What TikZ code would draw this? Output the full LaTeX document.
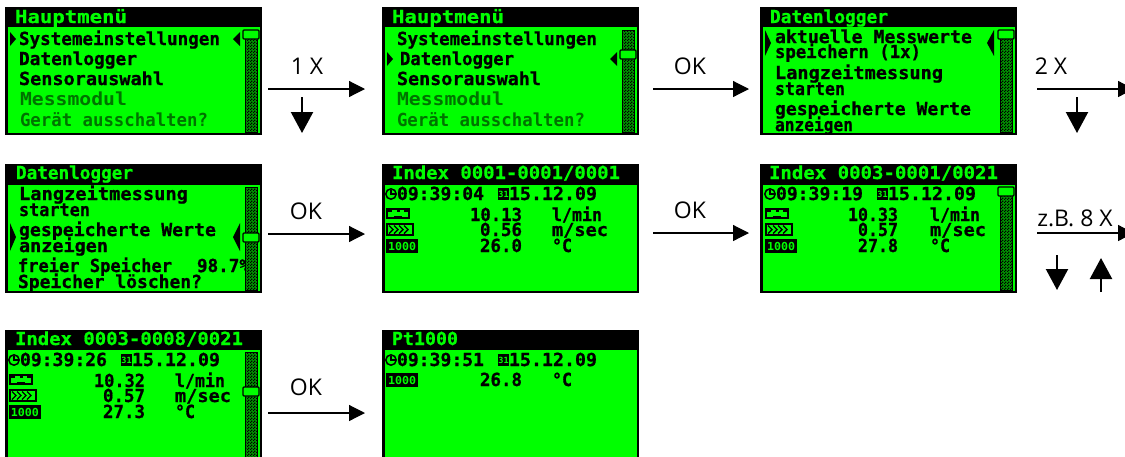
\documentclass[tikz,border=0pt]{standalone}
\usepackage{fontspec}
\usepackage{graphicx}
\usetikzlibrary{arrows.meta,patterns}
\setmainfont{Open Sans}
\newfontfamily\lcdfont{DejaVu Sans Mono Bold}[FakeBold=0.8]
\newfontfamily\lcdicon{DejaVu Sans Mono Bold}
\definecolor{lcdgreen}{RGB}{0,255,0}
\definecolor{lcddim}{RGB}{0,115,0}
\definecolor{lcdtrack}{RGB}{0,150,0}
\pgfdeclarepatternformonly{lcdcheck}{\pgfqpoint{0pt}{0pt}}{\pgfqpoint{2.6pt}{2.6pt}}{\pgfqpoint{2.6pt}{2.6pt}}{%
  \pgfpathrectangle{\pgfqpoint{0pt}{0pt}}{\pgfqpoint{1.3pt}{1.3pt}}%
  \pgfpathrectangle{\pgfqpoint{1.3pt}{1.3pt}}{\pgfqpoint{1.3pt}{1.3pt}}%
  \pgfusepath{fill}}
\newcounter{lcdn}
\tikzset{
  lcdtext/.style={anchor=base west,inner sep=0pt,outer sep=0pt,font=\lcdfont\fontsize{18}{18}\selectfont,text=black},
  lcdhead/.style={lcdtext,text=lcdgreen},
  lcddimtext/.style={anchor=base west,inner sep=0pt,outer sep=0pt,font=\lcdicon\fontsize{18}{18}\selectfont,text=lcddim},
  keylabel/.style={anchor=base,inner sep=0pt,font=\fontsize{23}{23}\selectfont,text=black},
  flowarrow/.style={draw=black,line width=1.2pt,-{Triangle[length=16pt,width=16pt]}},
  keyarrow/.style={draw=black,line width=2.2pt,-{Triangle[length=21pt,width=22pt]}},
  marker/.style={fill=black},
  thumb/.style={draw=black,line width=1.3pt,fill=lcdgreen,rounded corners=1pt},
}
% background of a screen: name, x, y, w, h, top of green area
\newcommand\lcdbg[6]{%
  \node[fill=black,draw=none,anchor=north west,inner sep=0pt,minimum width=#4pt,minimum height=#5pt] (#1) at (#2,#3) {};
  \fill[lcdgreen] (#2+3,#6) rectangle (#2+#4-2,#3+#5-2);}
% frame drawn over the text
\newcommand\lcdframe[5]{%
  \fill[black] (#1,#2) rectangle (#1+3,#2+#4);
  \fill[black] (#1+#3-2,#2) rectangle (#1+#3,#2+#4);
  \fill[black] (#1,#5-2) rectangle (#1+#3,#2+#4);
  \fill[white] (#1,#2+#4) rectangle (#1+#3,#2+#4+6);}
% text of a given width: style, x, baseline, width, text
\newcommand\lcdline[5]{\stepcounter{lcdn}%
  \node[#1] (t\thelcdn) at (#2,#3) {\resizebox{#4pt}{\height}{#5}};}
% scrollbar: x of track left, y top, y bottom, thumb top
\newcommand\track[4]{%
  \fill[lcdtrack] (#1,#2) rectangle (#1+12,#3);
  \fill[pattern=lcdcheck,pattern color=black] (#1,#2) rectangle (#1+12,#3);
  \draw[black,line width=.8pt] (#1,#2) rectangle (#1+12,#3);
  \path[thumb] (#1-2,#4) rectangle (#1+14,#4+9);}
% markers: left x, right x, y centre, half height
\newcommand\lcdmarks[4]{%
  \fill[marker] (#1,#3-#4) -- (#1+6,#3) -- (#1,#3+#4) -- cycle;
  \fill[marker] (#2,#3-#4) -- (#2-7,#3) -- (#2,#3+#4) -- cycle;}
% clock and date line, dx dy relative to the Index screen at (382,164)
\newcommand\clockdate[3]{%
  \begin{scope}[shift={(#1,#2)}]
  \draw[black,line width=1.5pt] (391,194) circle (5.2pt);
  \draw[black,line width=1.3pt] (391,190) -- (391,194) -- (395.5,194);
  \fill[black] (498,188) rectangle (509,200);
  \stepcounter{lcdn}\node[anchor=center,inner sep=0pt,text=lcdgreen,font=\lcdicon\fontsize{8.5}{8.5}\selectfont] (t\thelcdn) at (503.5,194) {31};
  \end{scope}}
\newcommand\flowicon[2]{%
  \begin{scope}[shift={(#1,#2)}]
  \fill[black] (386,208) rectangle (410,219);
  \fill[lcdgreen] (388,212) rectangle (408,217);
  \fill[lcdgreen] (392,210) rectangle (404,212);
  \fill[black] (396.5,210) rectangle (399.5,212);
  \fill[black] (394,216) rectangle (402,217);
  \end{scope}}
\newcommand\velicon[2]{%
  \begin{scope}[shift={(#1,#2)}]
  \fill[black] (386,223) rectangle (414,236);
  \fill[lcdgreen] (388,225) rectangle (412,234);
  \foreach \cx in {389,394,399,404}
    \draw[black,line width=1.4pt] (\cx,225.5) -- (\cx+4,229.5) -- (\cx,233.5);
  \end{scope}}
\newcommand\pticon[2]{%
  \begin{scope}[shift={(#1,#2)}]
  \fill[black] (386,239) rectangle (418,253);
  \stepcounter{lcdn}\node[anchor=center,inner sep=0pt,text=lcdgreen,font=\lcdicon\fontsize{11}{11}\selectfont] (t\thelcdn) at (402,246) {\resizebox{28pt}{\height}{1000}};
  \end{scope}}
% connector with named free ends
\newcommand\conn[6]{%
  \coordinate (#1s) at (#3,#4); \coordinate (#1e) at (#5,#6);
  \draw[#2] (#1s) -- (#1e);}
\begin{document}
\begin{tikzpicture}[x=1pt,y=-1pt]
\useasboundingbox (0,0) rectangle (1125,456);
\clip (0,0) rectangle (1125,456);

% ---- screen 1
\lcdbg{s1}{5}{7}{257}{128}{27}
\lcdline{lcdhead}{15}{23}{112}{Hauptmenü}
\lcdline{lcdtext}{19}{45}{201}{Systemeinstellungen}
\lcdline{lcdtext}{19}{65}{118}{Datenlogger}
\lcdline{lcdtext}{19}{85}{145}{Sensorauswahl}
\lcdline{lcddimtext}{20}{105}{107}{Messmodul}
\lcdline{lcddimtext}{20}{126}{188}{Gerät ausschalten?}
\track{245}{30}{132}{30}
\lcdmarks{10}{240}{39}{7}
\lcdframe{5}{7}{257}{128}{135}

% ---- screen 2
\lcdbg{s2}{382}{7}{257}{128}{27}
\lcdline{lcdhead}{392}{23}{112}{Hauptmenü}
\lcdline{lcdtext}{397}{45}{200}{Systemeinstellungen}
\lcdline{lcdtext}{400}{65}{114}{Datenlogger}
\lcdline{lcdtext}{397}{85}{144}{Sensorauswahl}
\lcdline{lcddimtext}{397}{105}{107}{Messmodul}
\lcdline{lcddimtext}{397}{126}{188}{Gerät ausschalten?}
\track{622}{30}{132}{50}
\lcdmarks{387}{617}{59}{7}
\lcdframe{382}{7}{257}{128}{135}

% ---- screen 3
\lcdbg{s3}{760}{7}{257}{128}{27}
\lcdline{lcdhead}{770}{23}{118}{Datenlogger}
\lcdline{lcdtext}{775}{43}{197}{aktuelle Messwerte}
\lcdline{lcdtext}{775}{58}{146}{speichern (1x)}
\lcdline{lcdtext}{775}{79}{168}{Langzeitmessung}
\lcdline{lcdtext}{775}{95}{70}{starten}
\lcdline{lcdtext}{775}{115}{196}{gespeicherte Werte}
\lcdline{lcdtext}{775}{131}{78}{anzeigen}
\track{1000}{30}{132}{30}
\lcdmarks{765}{994}{43}{13}
\lcdframe{760}{7}{257}{128}{135}

% ---- screen 4
\lcdbg{s4}{5}{164}{257}{129}{185}
\lcdline{lcdhead}{16}{179}{117}{Datenlogger}
\lcdline{lcdtext}{19}{200}{169}{Langzeitmessung}
\lcdline{lcdtext}{19}{216}{71}{starten}
\lcdline{lcdtext}{19}{236}{197}{gespeicherte Werte}
\lcdline{lcdtext}{19}{252}{89}{anzeigen}
\lcdline{lcdtext}{18}{272}{154}{freier Speicher}
\lcdline{lcdtext}{197}{272}{53}{98.7\%}
\lcdline{lcdtext}{18}{288}{184}{Speicher löschen?}
\track{245}{187}{290}{233}
\lcdmarks{10}{240}{237}{14}
\lcdframe{5}{164}{257}{129}{293}

% ---- screen 5
\lcdbg{s5}{382}{164}{257}{129}{185}
\lcdline{lcdhead}{392}{179}{228}{Index 0001-0001/0001}
\clockdate{0}{0}{}
\lcdline{lcdtext}{397}{200}{87}{09:39:04}
\lcdline{lcdtext}{509}{200}{88}{15.12.09}
\flowicon{0}{0}\velicon{0}{0}\pticon{0}{0}
\lcdline{lcdtext}{470}{221}{52}{10.13}
\lcdline{lcdtext}{480}{236}{42}{0.56}
\lcdline{lcdtext}{480}{252}{42}{26.0}
\lcdline{lcdtext}{552}{221}{50}{l/min}
\lcdline{lcdtext}{552}{236}{56}{m/sec}
\lcdline{lcdtext}{552}{252}{20}{°C}
\lcdframe{382}{164}{257}{129}{293}

% ---- screen 6
\lcdbg{s6}{760}{164}{257}{129}{185}
\lcdline{lcdhead}{769}{179}{229}{Index 0003-0001/0021}
\clockdate{379}{0}{}
\lcdline{lcdtext}{776}{200}{87}{09:39:19}
\lcdline{lcdtext}{888}{200}{88}{15.12.09}
\flowicon{379}{0}\velicon{379}{0}\pticon{379}{0}
\lcdline{lcdtext}{848}{221}{50}{10.33}
\lcdline{lcdtext}{858}{236}{40}{0.57}
\lcdline{lcdtext}{858}{252}{40}{27.8}
\lcdline{lcdtext}{930}{221}{50}{l/min}
\lcdline{lcdtext}{930}{236}{56}{m/sec}
\lcdline{lcdtext}{930}{252}{20}{°C}
\track{1000}{187}{290}{187}
\lcdframe{760}{164}{257}{129}{293}

% ---- screen 7
\lcdbg{s7}{5}{330}{257}{134}{350}
\lcdline{lcdhead}{15}{345}{228}{Index 0003-0008/0021}
\clockdate{-377}{166}{}
\lcdline{lcdtext}{20}{366}{87}{09:39:26}
\lcdline{lcdtext}{132}{366}{88}{15.12.09}
\flowicon{-377}{166}\velicon{-377}{166}\pticon{-377}{166}
\lcdline{lcdtext}{94}{387}{51}{10.32}
\lcdline{lcdtext}{103}{402}{42}{0.57}
\lcdline{lcdtext}{103}{418}{42}{27.3}
\lcdline{lcdtext}{175}{387}{50}{l/min}
\lcdline{lcdtext}{175}{402}{56}{m/sec}
\lcdline{lcdtext}{175}{418}{20}{°C}
\track{245}{352}{460}{387}
\fill[black] (5,330) rectangle (8,456);
\fill[black] (260,330) rectangle (262,456);

% ---- screen 8
\lcdbg{s8}{382}{330}{257}{134}{350}
\lcdline{lcdhead}{392}{345}{66}{Pt1000}
\clockdate{0}{166}{}
\lcdline{lcdtext}{397}{366}{87}{09:39:51}
\lcdline{lcdtext}{509}{366}{88}{15.12.09}
\pticon{0}{134}
\lcdline{lcdtext}{480}{386}{42}{26.8}
\lcdline{lcdtext}{552}{386}{20}{°C}
\fill[black] (382,330) rectangle (385,456);
\fill[black] (637,330) rectangle (639,456);

% ---- connectors and key labels
\conn{a1}{flowarrow}{268}{89}{365}{89}
\conn{a2}{flowarrow}{653}{89}{749}{89}
\conn{a3}{flowarrow}{1037}{89}{1134}{89}
\conn{a4}{flowarrow}{268}{234}{365}{234}
\conn{a5}{flowarrow}{653}{233}{749}{233}
\conn{a6}{flowarrow}{1037}{233}{1134}{233}
\conn{a7}{flowarrow}{268}{413}{365}{413}
\conn{d1}{keyarrow}{302}{97}{302}{133}
\conn{d3}{keyarrow}{1077}{97}{1077}{133}
\conn{d6}{keyarrow}{1057}{255}{1057}{290}
\conn{u6}{keyarrow}{1101}{292}{1101}{258}

\node[keylabel] (l1) at (307,74) {1 X};
\node[keylabel] (l2) at (690,74) {OK};
\node[keylabel] (l3) at (1051,74) {2 X};
\node[keylabel] (l4) at (306,219) {OK};
\node[keylabel] (l5) at (690,218) {OK};
\node[keylabel] (l6) at (1075,226) {z.B. 8 X};
\node[keylabel] (l7) at (306,395) {OK};
\end{tikzpicture}
\end{document}
